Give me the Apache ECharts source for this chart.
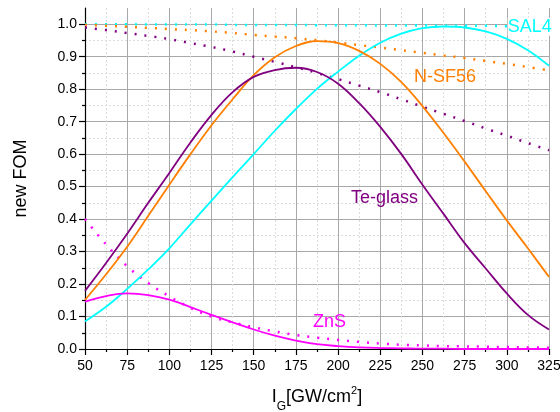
<!DOCTYPE html>
<html><head><meta charset="utf-8">
<script src="https://cdn.jsdelivr.net/npm/echarts@6/dist/echarts.min.js"></script>
<style>html,body{margin:0;padding:0;background:#fff}#c{width:560px;height:412px}</style>
</head><body><div id="c"></div>
<script>
var xValues = [50, 62.5, 75, 87.5, 100, 112.5, 125, 137.5, 150, 162.5, 175, 187.5, 200, 212.5, 225, 237.5, 250, 262.5, 275, 287.5, 300, 312.5, 325];

var teGlass = [0.179, 0.265, 0.355, 0.45, 0.542, 0.636, 0.721, 0.791, 0.838, 0.859, 0.866, 0.853, 0.817, 0.757, 0.684, 0.60, 0.506, 0.416, 0.326, 0.248, 0.171, 0.105, 0.06];
var nsf56 = [0.151, 0.23, 0.315, 0.41, 0.506, 0.60, 0.689, 0.769, 0.843, 0.898, 0.933, 0.948, 0.942, 0.918, 0.878, 0.822, 0.748, 0.665, 0.577, 0.486, 0.396, 0.31, 0.222];
var sal4 = [0.085, 0.13, 0.185, 0.245, 0.31, 0.384, 0.457, 0.529, 0.60, 0.672, 0.739, 0.801, 0.854, 0.903, 0.943, 0.971, 0.988, 0.993, 0.99, 0.978, 0.955, 0.92, 0.872];
var zns = [0.146, 0.163, 0.171, 0.166, 0.152, 0.129, 0.105, 0.082, 0.06, 0.041, 0.026, 0.015, 0.009, 0.005, 0.003, 0.002, 0.001, 0.001, 0, 0, 0, 0, 0];

var sal4Dot = [1.0, 1.0, 1.0, 0.999, 0.999, 0.999, 0.999, 0.998, 0.998, 0.998, 0.998, 0.997, 0.997, 0.997, 0.996, 0.996, 0.996, 0.995, 0.995, 0.995, 0.994, 0.994, 0.993];
var nsf56Dot = [0.998, 0.995, 0.992, 0.989, 0.985, 0.982, 0.978, 0.973, 0.967, 0.962, 0.957, 0.951, 0.944, 0.936, 0.928, 0.920, 0.912, 0.904, 0.896, 0.887, 0.878, 0.868, 0.858];
var teGlassDot = [0.990, 0.982, 0.973, 0.964, 0.954, 0.942, 0.930, 0.916, 0.900, 0.884, 0.868, 0.850, 0.831, 0.811, 0.791, 0.769, 0.746, 0.724, 0.702, 0.679, 0.657, 0.634, 0.612];
var znsDot = [0.40, 0.322, 0.255, 0.203, 0.162, 0.127, 0.10, 0.082, 0.067, 0.054, 0.043, 0.035, 0.028, 0.022, 0.017, 0.013, 0.011, 0.009, 0.008, 0.007, 0.006, 0.005, 0.004];

var yMajorTicks = [0, 0.1, 0.2, 0.3, 0.4, 0.5, 0.6, 0.7, 0.8, 0.9, 1.0];
var yMinorTicks = [0.05, 0.15, 0.25, 0.35, 0.45, 0.55, 0.65, 0.75, 0.85, 0.95];

var seriesNames = ['SAL4', 'N-SF56', 'Te-glass', 'ZnS'];
var seriesColors = ['#00ffff', '#ff8000', '#800080', '#ff00ff'];
var labelAnchors = [[300.5, 0.992], [245, 0.838], [207.6, 0.465], [185.1, 0.084]];

function pairs(ys) { return xValues.map(function (x, i) { return [x, ys[i]]; }); }

var FONT = '"Liberation Sans", Arial, sans-serif';
var solidData = [sal4, nsf56, teGlass, zns];
var dotData = [sal4Dot, nsf56Dot, teGlassDot, znsDot];

var series = [];
dotData.forEach(function (d, i) {
  series.push({
    type: 'line', name: seriesNames[i] + ' dotted', data: pairs(d), showSymbol: false, smooth: 0.4,
    lineStyle: { color: seriesColors[i], width: 2.5, type: [2, 8], cap: 'butt' }, z: 2, silent: true
  });
});
solidData.forEach(function (d, i) {
  series.push({
    type: 'line', name: seriesNames[i], data: pairs(d), showSymbol: false, smooth: 0.4,
    lineStyle: { color: seriesColors[i], width: 1.8 }, z: 3, silent: true
  });
});

var chart = echarts.init(document.getElementById('c'), null, { renderer: 'canvas' });
chart.setOption({
  animation: false,
  backgroundColor: '#fff',
  grid: { left: 85, right: 11, top: 8, bottom: 63, containLabel: false, outerBoundsMode: 'none' },
  xAxis: {
    type: 'value', min: 50, max: 325, interval: 25,
    name: '{a|I}{sub|G}{a|[GW/cm}{sup|2}{a|]}',
    nameLocation: 'middle', nameGap: 36,
    nameTextStyle: {
      rich: {
        a: { fontSize: 18, fontFamily: FONT, color: '#000', lineHeight: 24, verticalAlign: 'middle' },
        sub: { fontSize: 12, fontFamily: FONT, color: '#000', lineHeight: 24, verticalAlign: 'bottom', padding: [0, 0, -4, 0] },
        sup: { fontSize: 11, fontFamily: FONT, color: '#000', lineHeight: 24, verticalAlign: 'top' }
      }
    },
    axisLine: { show: true, lineStyle: { color: '#000', width: 1.2 } },
    axisTick: { show: true, inside: false, length: 6, lineStyle: { color: '#000', width: 1.2 } },
    minorTick: { show: true, splitNumber: 2, length: 3, lineStyle: { color: '#000', width: 1.2 } },
    axisLabel: { fontSize: 14, fontFamily: FONT, color: '#000', margin: 10 },
    splitLine: { show: true, lineStyle: { color: '#a8a8a8', width: 1 } },
    minorSplitLine: { show: true, lineStyle: { color: '#dcdcdc', width: 1, type: [2, 2] } }
  },
  yAxis: [{
    type: 'value', min: 0, max: 1.05,
    name: 'new FOM', nameLocation: 'middle', nameGap: 55, nameRotate: 90,
    nameTextStyle: { fontSize: 18, fontFamily: FONT, color: '#000' },
    axisLine: { show: true, lineStyle: { color: '#000', width: 1.2 } },
    axisTick: { show: true, length: 6, customValues: yMajorTicks, lineStyle: { color: '#000', width: 1.2 } },
    axisLabel: { fontSize: 14, fontFamily: FONT, color: '#000', margin: 8, customValues: yMajorTicks,
      formatter: function (v) { return v.toFixed(1); } },
    splitLine: { show: true, lineStyle: { color: '#a8a8a8', width: 1 } }
  }, {
    type: 'value', min: 0, max: 1.05, position: 'left', offset: 0,
    axisLine: { show: false },
    axisTick: { show: true, length: 3, customValues: yMinorTicks, lineStyle: { color: '#000', width: 1.2 } },
    axisLabel: { show: false, customValues: yMinorTicks },
    splitLine: { show: true, lineStyle: { color: '#dcdcdc', width: 1, type: [2, 2] } }
  }],
  series: series
});

var graphics = seriesNames.map(function (n, i) {
  var p = chart.convertToPixel({ xAxisIndex: 0, yAxisIndex: 0 }, labelAnchors[i]);
  return {
    type: 'text', x: p[0], y: p[1], z: 10,
    style: { text: n, fill: seriesColors[i], font: '18px ' + FONT, textAlign: 'left', textVerticalAlign: 'middle',
      backgroundColor: i === 0 ? '#fff' : null }
  };
});
chart.setOption({ graphic: graphics });
</script>
</body></html>
